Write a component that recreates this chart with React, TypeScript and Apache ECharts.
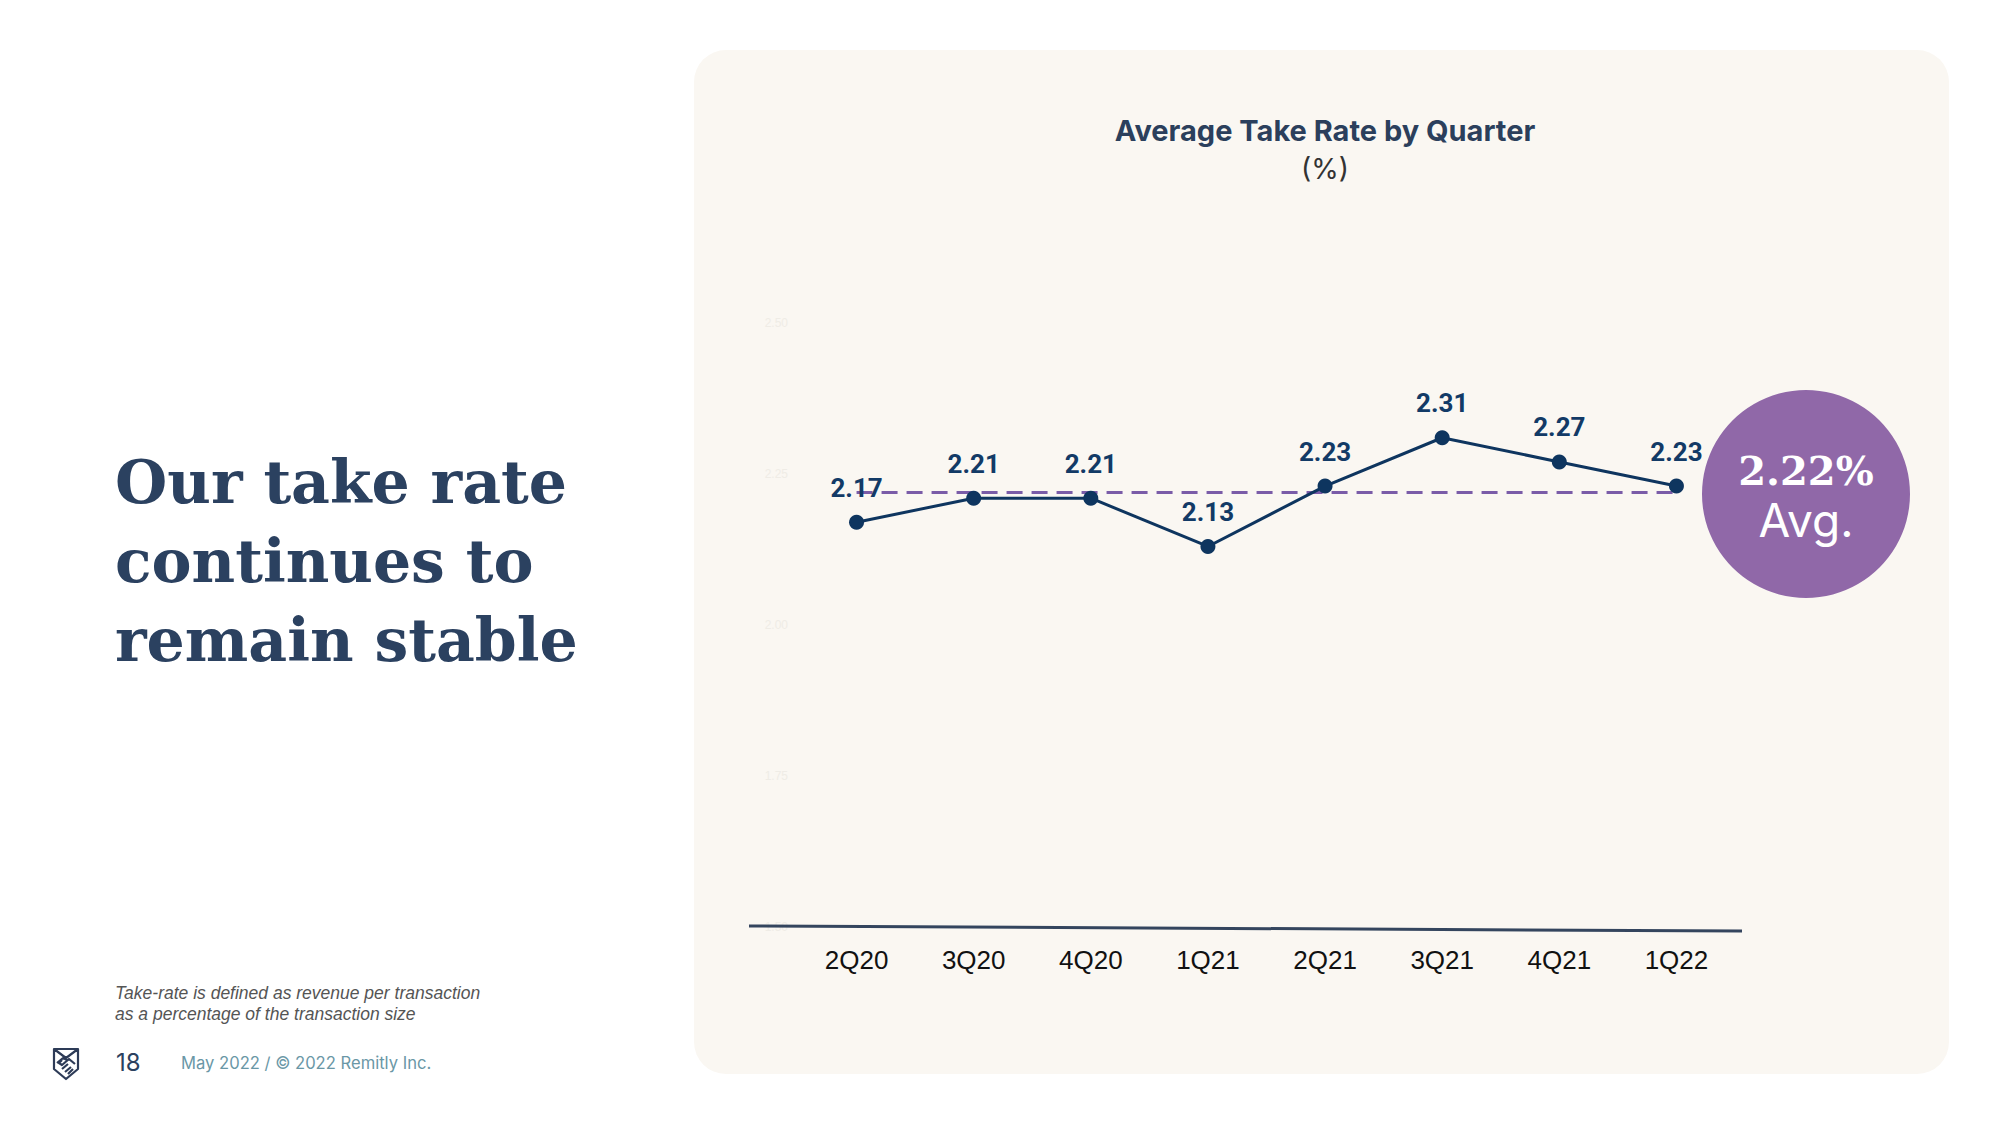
import React, { useEffect, useRef } from "react";
import * as echarts from "echarts";

const quarters = ["2Q20", "3Q20", "4Q20", "1Q21", "2Q21", "3Q21", "4Q21", "1Q22"];
const takeRate = [2.17, 2.21, 2.21, 2.13, 2.23, 2.31, 2.27, 2.23];
const averageRate = 2.22;
const yTicks = { min: 1.5, max: 2.5, interval: 0.25 };

const titleText = "Average Take Rate by Quarter";
const unitText = "(%)";
const headingLines = ["Our take rate", "continues to", "remain stable"];
const footnoteLines = [
  "Take-rate is defined as revenue per transaction",
  "as a percentage of the transaction size",
];
const pageNumber = "18";
const footerText = "May 2022 / \u00a9 2022 Remitly Inc.";

const LOGO_D =
  "M1 1 H25 V21 L13 31 L1 21 Z M1 1 L13 10 L25 1 M4 15 L10 10 L14 12 M9 12 L6 15 L9 17 L16 11 L22 16 M9 21 L15 16 M12 24 L18 19 M15 26 L20 21";

let registered = false;

export default function App() {
  const ref = useRef<HTMLDivElement>(null);

  useEffect(() => {
    document.body.style.margin = "0";
    if (!registered) {
      echarts.graphic.registerShape("logo", echarts.graphic.extendPath(LOGO_D, {}));
      registered = true;
    }
    const chart = echarts.init(ref.current!, undefined, { renderer: "svg" });
    const navy = "#2b4160";
    chart.setOption({
      animation: false,
      backgroundColor: "#ffffff",
      grid: { left: 798, right: 265, top: 323, bottom: 198 },
      xAxis: {
        type: "category",
        data: quarters,
        boundaryGap: true,
        axisLine: { show: false },
        axisTick: { show: false },
        axisLabel: {
          color: "#111111",
          fontSize: 26,
          fontFamily: "'Liberation Sans Narrow', 'Liberation Sans', Arial, sans-serif",
          margin: 20,
        },
      },
      yAxis: {
        type: "value",
        min: yTicks.min,
        max: yTicks.max,
        interval: yTicks.interval,
        splitLine: { show: false },
        axisLine: { show: false },
        axisTick: { show: false },
        axisLabel: {
          color: "#efece6",
          fontSize: 12,
          margin: 10,
          formatter: (v: number) => v.toFixed(2),
        },
      },
      series: [
        {
          type: "line",
          data: takeRate,
          symbol: "circle",
          symbolSize: 15,
          z: 5,
          lineStyle: { color: "#0e355f", width: 3 },
          itemStyle: { color: "#0e355f" },
          label: {
            show: true,
            position: "top",
            distance: 14,
            color: "#123a66",
            fontSize: 26,
            fontWeight: "bold",
            fontFamily: "'Liberation Sans Narrow', Roboto, 'Liberation Sans', sans-serif",
            formatter: (p: any) => p.value.toFixed(2),
          },
          markLine: {
            silent: true,
            symbol: "none",
            label: { show: false },
            lineStyle: { color: "#7a5ca8", width: 3, type: [16, 9] },
            data: [
              [
                { coord: [0, averageRate] },
                { coord: [quarters.length - 1, averageRate] },
              ],
            ],
          },
        },
      ],
      graphic: [
        {
          type: "rect",
          z: -10,
          shape: { x: 694, y: 50, width: 1255, height: 1024, r: 32 },
          style: { fill: "#faf7f2" },
        },
        {
          type: "line",
          z: 1,
          shape: { x1: 749, y1: 926, x2: 1742, y2: 931 },
          style: { stroke: "#34455e", lineWidth: 3 },
        },
        {
          type: "text",
          x: 1325,
          y: 130,
          style: {
            text: titleText,
            fill: "#2b3f5c",
            font: "700 29px Inter, 'Open Sans', sans-serif",
            textAlign: "center",
            textVerticalAlign: "middle",
          },
        },
        {
          type: "text",
          x: 1325,
          y: 169,
          style: {
            text: unitText,
            fill: "#333333",
            font: "400 28px Inter, 'Open Sans', sans-serif",
            textAlign: "center",
            textVerticalAlign: "middle",
          },
        },
        ...headingLines.map((line, i) => ({
          type: "text",
          x: 115,
          y: 482 + i * 79,
          style: {
            text: line,
            fill: navy,
            font: "bold 60px 'DejaVu Serif', Georgia, serif",
            textAlign: "left",
            textVerticalAlign: "middle",
          },
        })),
        ...footnoteLines.map((line, i) => ({
          type: "text",
          x: 115,
          y: 993 + i * 21,
          style: {
            text: line,
            fill: "#555555",
            font: "italic 17.5px 'Liberation Sans', Arial, sans-serif",
            textAlign: "left",
            textVerticalAlign: "middle",
          },
        })),
        {
          type: "logo",
          x: 53,
          y: 1048,
          style: { fill: "none", stroke: "#2d3b57", lineWidth: 2.2, lineJoin: "round" },
        },
        {
          type: "text",
          x: 116,
          y: 1062,
          style: {
            text: pageNumber,
            fill: navy,
            font: "400 24px Inter, sans-serif",
            textAlign: "left",
            textVerticalAlign: "middle",
          },
        },
        {
          type: "text",
          x: 181,
          y: 1063,
          style: {
            text: footerText,
            fill: "#6a97a6",
            font: "400 16.6px Inter, sans-serif",
            textAlign: "left",
            textVerticalAlign: "middle",
          },
        },
        {
          type: "circle",
          z: 10,
          shape: { cx: 1806, cy: 494, r: 104 },
          style: { fill: "#9068a8" },
        },
        {
          type: "text",
          z: 11,
          x: 1806,
          y: 470,
          style: {
            text: averageRate.toFixed(2) + "%",
            fill: "#ffffff",
            font: "bold 40px 'DejaVu Serif', Georgia, serif",
            textAlign: "center",
            textVerticalAlign: "middle",
          },
        },
        {
          type: "text",
          z: 11,
          x: 1806,
          y: 520,
          style: {
            text: "Avg.",
            fill: "#ffffff",
            font: "400 46px Inter, sans-serif",
            textAlign: "center",
            textVerticalAlign: "middle",
          },
        },
      ],
    });
    return () => chart.dispose();
  }, []);

  return (
    <div
      ref={ref}
      style={{ position: "fixed", left: 0, top: 0, width: 2000, height: 1125 }}
    />
  );
}
